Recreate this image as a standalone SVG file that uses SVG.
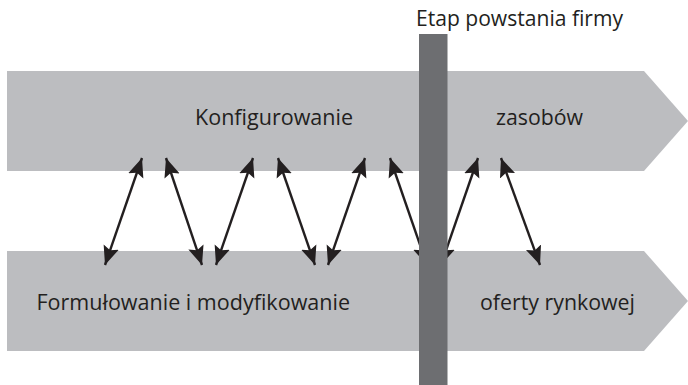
<svg xmlns="http://www.w3.org/2000/svg" width="688" height="385" viewBox="0 0 688 385">
  <style>
    .band { fill: #bcbdc0; }
    .stage { fill: #6d6e71; }
    .label { font-family: "Open Sans", "Noto Sans", "Liberation Sans", sans-serif; font-size: 21.5px; fill: #231f20; }
    .link { stroke: #231f20; stroke-width: 2.4; fill: none; marker-start: url(#head); marker-end: url(#head); }
  </style>
  <defs>
    <marker id="head" viewBox="-19 -9 19 18" refX="0" refY="0" markerWidth="19" markerHeight="18" markerUnits="userSpaceOnUse" orient="auto-start-reverse">
      <path d="M0,0 L-19,-8 L-15.5,0 L-19,8 Z" fill="#231f20"/>
    </marker>
  </defs>

  <!-- upper process arrow -->
  <g id="resources">
    <polygon class="band" points="7,71 644,71 688,121 644,171 7,171"/>
    <text class="label" x="195" y="124.5" textLength="158" lengthAdjust="spacingAndGlyphs">Konfigurowanie</text>
    <text class="label" x="496" y="125" textLength="87" lengthAdjust="spacingAndGlyphs">zasobów</text>
  </g>

  <!-- lower process arrow -->
  <g id="offer">
    <polygon class="band" points="7,251 644,251 688,301 644,351 7,351"/>
    <text class="label" x="36.5" y="309.5" textLength="313.5" lengthAdjust="spacingAndGlyphs">Formułowanie i modyfikowanie</text>
    <text class="label" x="480" y="309.5" textLength="155" lengthAdjust="spacingAndGlyphs">oferty rynkowej</text>
  </g>

  <!-- two-way interactions between the processes -->
  <g id="connectors">
    <line class="link" x1="142" y1="158" x2="105" y2="265"/>
    <line class="link" x1="166" y1="158" x2="202" y2="265"/>
    <line class="link" x1="253" y1="158" x2="216" y2="265"/>
    <line class="link" x1="278" y1="158" x2="315" y2="265"/>
    <line class="link" x1="365" y1="158" x2="328" y2="265"/>
    <line class="link" x1="390" y1="158" x2="427" y2="265"/>
    <line class="link" x1="478" y1="158" x2="441" y2="265"/>
    <line class="link" x1="501" y1="158" x2="540" y2="265"/>
  </g>

  <!-- founding stage marker -->
  <g id="founding-stage">
    <rect class="stage" x="419" y="34" width="28.5" height="351"/>
    <text class="label" x="416" y="26" textLength="207" lengthAdjust="spacingAndGlyphs">Etap powstania firmy</text>
  </g>
</svg>
